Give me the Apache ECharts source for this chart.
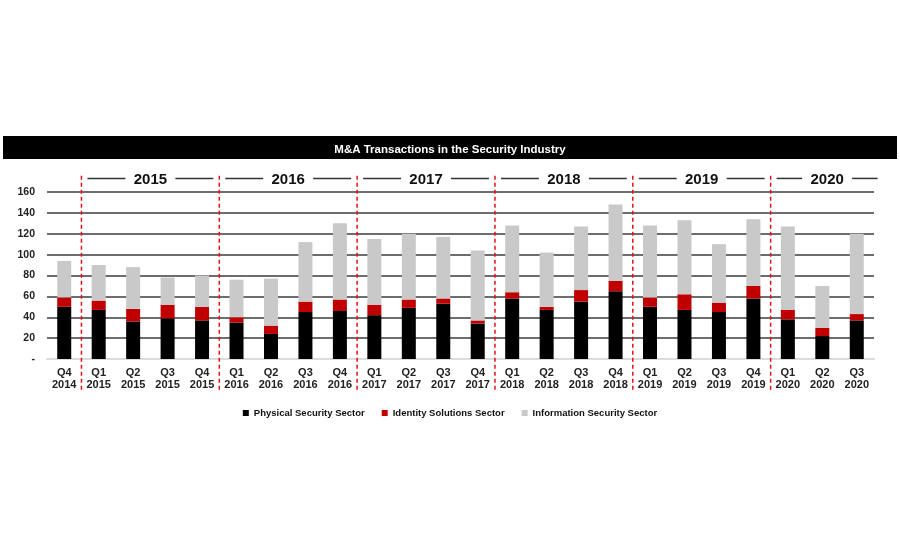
<!DOCTYPE html>
<html>
<head>
<meta charset="utf-8">
<script src="https://cdn.jsdelivr.net/npm/echarts@6/dist/echarts.min.js"></script>
<style>
  html, body { margin: 0; padding: 0; background: #fff; }
  #chart { width: 900px; height: 550px; }
</style>
</head>
<body>
<div id="chart"></div>
<script>
// quarters shown on the x axis
var quarters = ['Q4\n2014',
    'Q1\n2015', 'Q2\n2015', 'Q3\n2015', 'Q4\n2015',
    'Q1\n2016', 'Q2\n2016', 'Q3\n2016', 'Q4\n2016',
    'Q1\n2017', 'Q2\n2017', 'Q3\n2017', 'Q4\n2017',
    'Q1\n2018', 'Q2\n2018', 'Q3\n2018', 'Q4\n2018',
    'Q1\n2019', 'Q2\n2019', 'Q3\n2019', 'Q4\n2019',
    'Q1\n2020', 'Q2\n2020', 'Q3\n2020'];

var physical    = [50, 47, 36, 39, 37, 35, 24, 45, 46, 42, 49, 53, 34, 58, 47, 55, 65, 50, 47, 45, 58, 38, 22, 37];
var identity    = [ 9,  9, 12, 13, 13,  5,  8, 10, 11, 10,  8,  5,  3,  6,  3, 11, 10,  9, 15,  9, 12,  9,  8,  6];
var information = [35, 34, 40, 26, 30, 36, 45, 57, 73, 63, 63, 59, 67, 64, 52, 61, 73, 69, 71, 56, 64, 80, 40, 77];

// year headers: label and the span of quarter indexes they cover
var yearLabels = ['2015', '2016', '2017', '2018', '2019', '2020'];
var yearStarts = [0.5, 4.5, 8.5, 12.5, 16.5, 20.5];
var yearEnds   = [4.5, 8.5, 12.5, 16.5, 20.5, 23.78];

var yTicks = [0, 20, 40, 60, 80, 100, 120, 140, 160];

var FONT = '"Liberation Sans", Arial, sans-serif';

var headerY = 173;
var dashTop = 175.5;
var dashBottom = -30.5;

function renderYears(params, api) {
    var i = params.dataIndex;
    var s = api.coord([api.value(0), headerY]);
    var e = api.coord([api.value(1), headerY]);
    var t = api.coord([api.value(0), dashTop]);
    var b = api.coord([api.value(0), dashBottom]);
    var mid = (s[0] + e[0]) / 2;
    return {
        type: 'group',
        children: [
            {type: 'line', shape: {x1: t[0], y1: t[1], x2: b[0], y2: b[1]},
             style: {stroke: '#e3101a', lineWidth: 1.5, lineDash: [4, 3]}},
            {type: 'line', shape: {x1: s[0] + 6, y1: s[1], x2: mid - 25, y2: s[1]},
             style: {stroke: '#333', lineWidth: 1.5}},
            {type: 'line', shape: {x1: mid + 25, y1: s[1], x2: e[0] - 6, y2: s[1]},
             style: {stroke: '#333', lineWidth: 1.5}},
            {type: 'text', style: {text: yearLabels[i], x: mid, y: s[1] + 1, align: 'center',
             verticalAlign: 'middle', font: 'bold 15px ' + FONT, fill: '#111'}}
        ]
    };
}

var yearData = yearLabels.map(function (l, i) {
    return [yearStarts[i], yearEnds[i], 0];
});

var myChart = echarts.init(document.getElementById('chart'));

var option = {
    backgroundColor: '#fff',
    animation: false,
    graphic: [{
        type: 'rect',
        left: 3, top: 136,
        shape: {width: 894, height: 23},
        style: {fill: '#000'},
        z: 0
    }],
    title: {
        text: 'M&A Transactions in the Security Industry',
        left: 'center',
        top: 139,
        textStyle: {color: '#fff', fontSize: 11.5, fontWeight: 'bold', fontFamily: FONT}
    },
    legend: {
        data: ['Physical Security Sector', 'Identity Solutions Sector', 'Information Security Sector'],
        left: 'center',
        top: 403,
        icon: 'rect',
        itemWidth: 6,
        itemHeight: 6,
        itemGap: 17,
        textStyle: {fontSize: 9.5, fontWeight: 'bold', color: '#111', fontFamily: FONT}
    },
    grid: {left: 47, right: 26, top: 192, bottom: 191},
    xAxis: [{
        type: 'category',
        data: quarters,
        axisTick: {show: false},
        axisLine: {lineStyle: {color: '#dcdcdc', width: 2}},
        axisLabel: {
            margin: 8, fontSize: 11, fontWeight: 'bold', color: '#222',
            lineHeight: 12, fontFamily: FONT, interval: 0
        }
    }, {
        type: 'value',
        min: -0.5,
        max: 23.5,
        show: false
    }],
    yAxis: {
        type: 'value',
        min: 0,
        max: 160,
        interval: 20,
        axisLine: {show: false},
        axisTick: {show: false},
        axisLabel: {
            margin: 12, fontSize: 10.5, fontWeight: 'bold', color: '#222', fontFamily: FONT,
            formatter: function (v) { return v === 0 ? '-' : v; }
        },
        splitLine: {
            lineStyle: {
                width: 1.5,
                color: yTicks.map(function (v) { return v === 0 ? '#dcdcdc' : '#3c3c3c'; })
            }
        }
    },
    series: [{
        name: 'Physical Security Sector',
        type: 'bar',
        stack: 'all',
        barWidth: 14,
        itemStyle: {color: '#000'},
        data: physical
    }, {
        name: 'Identity Solutions Sector',
        type: 'bar',
        stack: 'all',
        barWidth: 14,
        itemStyle: {color: '#c00000'},
        data: identity
    }, {
        name: 'Information Security Sector',
        type: 'bar',
        stack: 'all',
        barWidth: 14,
        itemStyle: {color: '#c9c9c9'},
        data: information
    }, {
        type: 'custom',
        xAxisIndex: 1,
        renderItem: renderYears,
        encode: {x: [0, 1], y: 2},
        silent: true,
        z: 5,
        data: yearData
    }]
};

myChart.setOption(option);
window.onresize = myChart.resize;
</script>
</body>
</html>
